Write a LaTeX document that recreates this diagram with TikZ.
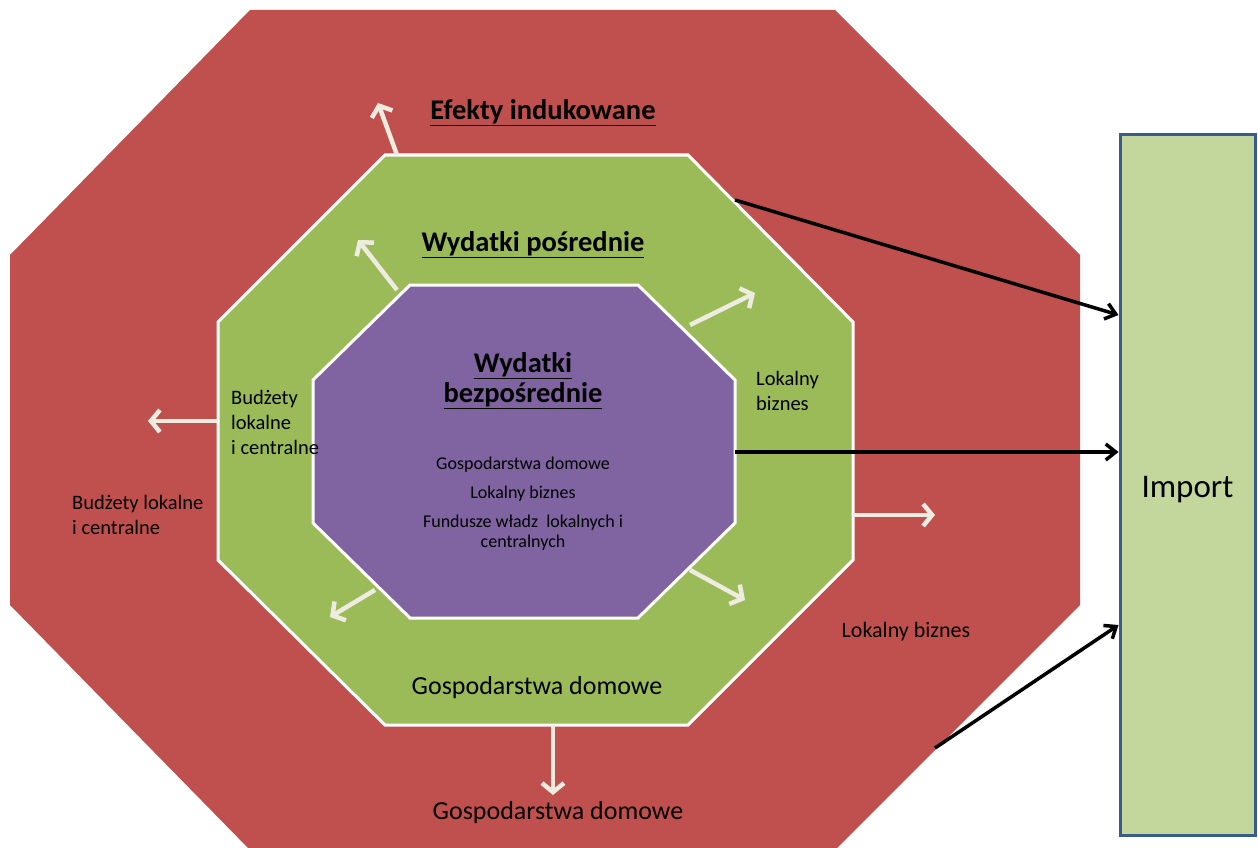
\documentclass[tikz,border=0pt]{standalone}
\usepackage{fontspec}
\setmainfont{Carlito}
\usetikzlibrary{arrows.meta, positioning}
\definecolor{brick}{RGB}{192, 80, 77}
\definecolor{olive_green}{RGB}{155, 187, 89}
\definecolor{lavender}{RGB}{128, 100, 162}
\definecolor{pale_green}{RGB}{195, 214, 155}
\definecolor{steel_blue}{RGB}{56, 93, 138}
\definecolor{parchment}{RGB}{238, 236, 225}
\def \UB #1{\underline{\textbf{#1}}}

\begin{document}
\begin{tikzpicture}[
    x=1pt, y=-1pt,
    ring/.style={
        fill=#1,
        draw=white,
        line width=3pt,
        line join=miter
    },
    heading/.style={
        font=\fontsize{28.5}{30}\selectfont,
        align=center,
        inner sep=0pt
    },
    note/.style={
        font=\fontsize{20.5}{25}\selectfont,
        align=left,
        inner sep=0pt
    },
    spill/.style={
        draw=parchment,
        line width=4.5pt,
        -{Straight Barb[length=9pt,width=22pt]}
    },
    leak/.style={
        draw=black,
        line width=3.5pt,
        -{Straight Barb[length=10pt,width=16pt]}
    }
]
\useasboundingbox (0,0) rectangle (1258,848);

% Octagon of induced effects
\fill[brick] (250,10) -- (835,10) -- (1080,255) -- (1080,605) -- (835,850)
    -- (250,850) -- (10,605) -- (10,255) -- cycle;

% Octagon of indirect spending
\draw[ring=olive_green] (385,155) -- (688,155) -- (853,322) -- (853,560) -- (688,725)
    -- (385,725) -- (218,560) -- (218,322) -- cycle;

% Spill points on the rings
\coordinate (gN) at (397,155);
\coordinate (gW) at (218,421);
\coordinate (gE) at (853,515);
\coordinate (gS) at (553,725);
\coordinate (gNE) at (735,200);
\coordinate (pNW) at (397,290);
\coordinate (pNE) at (690,325);
\coordinate (pSE) at (690,570);
\coordinate (pSW) at (375,590);
\coordinate (pE) at (735,452);
\coordinate (rSE) at (935,748);

% Outward arrows from the green ring
\draw[spill] (gN) -- (378,103);
\draw[spill] (gW) -- (148,421);
\draw[spill] (gE) -- (935,515);
\draw[spill] (gS) -- (553,795);

% Octagon of direct spending
\draw[ring=lavender] (410,285) -- (638,285) -- (735,380) -- (735,523) -- (638,618)
    -- (410,618) -- (313,523) -- (313,380) -- cycle;

% Outward arrows from the purple ring
\draw[spill] (pNW) -- (358,240);
\draw[spill] (pNE) -- (755,293);
\draw[spill] (pSE) -- (745,600);
\draw[spill] (pSW) -- (330,617);

% Import box
\node[draw=steel_blue, fill=pale_green, line width=3pt, minimum width=135pt,
    minimum height=700pt, inner sep=0pt, font=\fontsize{33}{40}\selectfont]
    (imp) at (1187.5,485) {\raisebox{-5pt}[\height][\depth]{Import}};

% Leaks into imports
\draw[leak] (gNE) -- ([yshift=170pt]imp.west);
\draw[leak] (pE) -- (imp.west |- pE);
\draw[leak] (rSE) -- ([yshift=-140pt]imp.west);

% Titles
\node[heading] (ind) at (543,113) {\UB{Efekty indukowane}};
\node[heading] (pos) at (533,245) {\UB{Wydatki pośrednie}};
\node[heading] (bezp) at (523,381) {\UB{Wydatki}\\\UB{bezpośrednie}};

% Labels
\node[note, align=center, font=\fontsize{18}{20}\selectfont] (pnote) at (523,504)
    {Gospodarstwa domowe\\[9pt]Lokalny biznes\\[9pt]Fundusze władz\ \ lokalnych i\\centralnych};
\node[note, anchor=west] (gbud) at (231,422) {Budżety\\lokalne\\i centralne};
\node[note, anchor=west] (gbiz) at (756,391) {Lokalny\\biznes};
\node[note, anchor=center, font=\fontsize{26}{30}\selectfont] (gdom) at (537,688) {Gospodarstwa domowe};
\node[note, anchor=west] (rbud) at (72,515) {Budżety lokalne\\i centralne};
\node[note, anchor=center, font=\fontsize{22}{25}\selectfont] (rbiz) at (906,632) {Lokalny biznes};
\node[note, anchor=center, font=\fontsize{26}{30}\selectfont] (rdom) at (558,813) {Gospodarstwa domowe};

\end{tikzpicture}
\end{document}
